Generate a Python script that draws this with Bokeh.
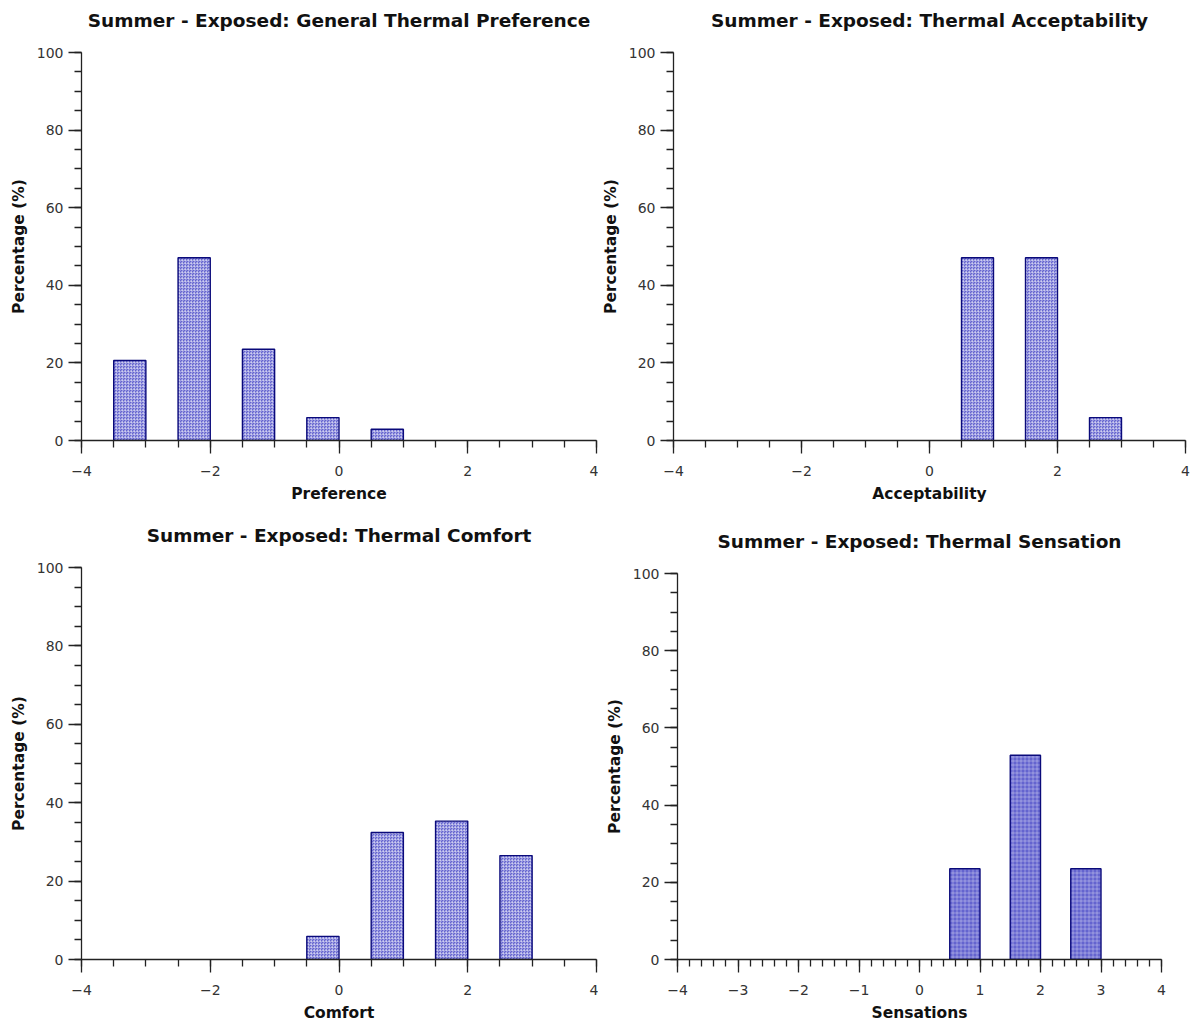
from bokeh.plotting import figure
from bokeh.layouts import column, row
from bokeh.models import Title, FixedTicker
from bokeh.embed import file_html
from bokeh.resources import INLINE

# Summer survey, exposed site: share of 34 respondents per answer (%)
preference_x = [-3, -2, -1, 0, 1]
preference_pct = [20.6, 47.1, 23.5, 5.9, 2.9]

acceptability_x = [1, 2, 3]
acceptability_pct = [47.1, 47.1, 5.9]

comfort_x = [0, 1, 2, 3]
comfort_pct = [5.9, 32.4, 35.3, 26.5]

sensation_x = [1, 2, 3]
sensation_pct = [23.5, 52.9, 23.5]

BAR_W = 0.5
FONT = "DejaVu Sans"
FILL = "#6464cf"
EDGE = "#0a0a7a"


def panel(title, xlabel, xs, ys, width, height, borders, x_major, x_minor,
          hatch="criss_cross", hatch_scale=3.0):
    left, right, top, bottom = borders
    p = figure(width=width, height=height, x_range=(-4, 4), y_range=(0, 100),
               output_backend="svg", toolbar_location=None,
               min_border_left=left, min_border_right=right,
               min_border_top=top, min_border_bottom=bottom)
    p.title.text = ""
    # empty band between the heading and the plotting area
    p.add_layout(Title(text=" ", text_font_size="1px", standoff=19), "above")
    p.add_layout(Title(text=title, align="center", text_font=FONT,
                       text_font_size="18.5px", text_font_style="bold",
                       text_color="#111111", standoff=0), "above")
    p.outline_line_color = None
    p.grid.visible = False
    p.background_fill_color = "white"
    p.border_fill_color = "white"

    # bars are drawn to the left of each response value
    lefts = [x - BAR_W for x in xs]
    p.quad(left=lefts, right=xs, bottom=0, top=ys,
           fill_color=FILL, line_color=EDGE, line_width=1.4,
           hatch_pattern=hatch, hatch_color="white", hatch_alpha=0.4,
           hatch_scale=hatch_scale, hatch_weight=0.8)

    for ax in (p.xaxis, p.yaxis):
        ax.axis_line_color = "#222222"
        ax.axis_line_width = 1.3
        ax.major_tick_line_color = "#222222"
        ax.minor_tick_line_color = "#222222"
        ax.major_tick_line_width = 1.3
        ax.minor_tick_line_width = 1.3
        ax.major_tick_in = 0
        ax.minor_tick_in = 0
        ax.major_tick_out = 13
        ax.minor_tick_out = 7
        ax.major_label_text_font = FONT
        ax.major_label_text_font_size = "14px"
        ax.major_label_text_color = "#333333"
        ax.axis_label_text_font = FONT
        ax.axis_label_text_font_size = "15.5px"
        ax.axis_label_text_font_style = "bold"
        ax.axis_label_text_color = "#111111"

    p.xaxis.ticker = FixedTicker(ticks=x_major, minor_ticks=x_minor)
    p.yaxis.ticker = FixedTicker(ticks=[0, 20, 40, 60, 80, 100],
                                 minor_ticks=list(range(0, 101, 5)))
    p.xaxis.axis_label = xlabel
    p.yaxis.axis_label = "Percentage (%)"
    p.xaxis.major_label_standoff = 12
    p.xaxis.axis_label_standoff = 6
    p.yaxis.major_label_standoff = 5
    p.yaxis.axis_label_standoff = 6
    p.xaxis.major_label_overrides = {t: str(t).replace("-", "\u2212") for t in x_major}
    return p


half_steps = [i * 0.5 for i in range(-8, 9)]
fifth_steps = [round(i * 0.2, 1) for i in range(-20, 21)]

p1 = panel("Summer - Exposed: General Thermal Preference", "Preference",
           preference_x, preference_pct, 598, 510, (81, 2, 52, 70),
           [-4, -2, 0, 2, 4], half_steps)
p2 = panel("Summer - Exposed: Thermal Acceptability", "Acceptability",
           acceptability_x, acceptability_pct, 595, 510, (72, 8, 52, 70),
           [-4, -2, 0, 2, 4], half_steps)
p3 = panel("Summer - Exposed: Thermal Comfort", "Comfort",
           comfort_x, comfort_pct, 598, 522, (81, 2, 63, 67),
           [-4, -2, 0, 2, 4], half_steps)
p4 = panel("Summer - Exposed: Thermal Sensation", "Sensations",
           sensation_x, sensation_pct, 595, 516, (79, 32, 63, 66),
           [-4, -3, -2, -1, 0, 1, 2, 3, 4], fifth_steps,
           hatch="+", hatch_scale=4.0)
# the comfort panel sits a little higher than its neighbour
p3.margin = (-6, 0, 0, 0)

layout = column(row(p1, p2), row(p3, p4))

with open("out.html", "w") as f:
    f.write(file_html(layout, INLINE))
